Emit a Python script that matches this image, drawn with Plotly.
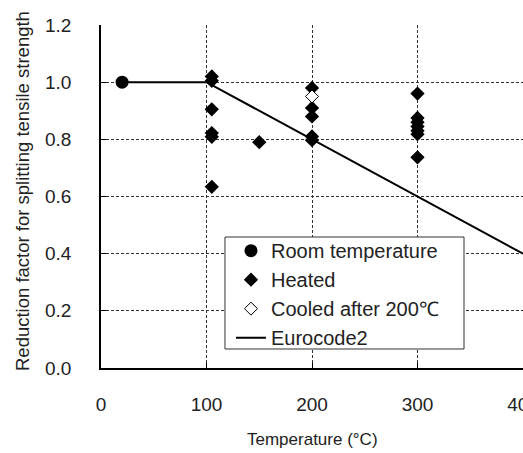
import plotly.graph_objects as go

# Temperature (°C) and reduction factor for each specimen group
room_temp = [20]
room_factor = [1.0]

heated_temp = [105, 105, 105, 105, 105, 105,
               150,
               200, 200, 200, 200, 200,
               300, 300, 300, 300, 300, 300, 300]
heated_factor = [1.02, 1.005, 0.905, 0.822, 0.809, 0.634,
                 0.79,
                 0.98, 0.91, 0.88, 0.81, 0.797,
                 0.96, 0.875, 0.86, 0.845, 0.83, 0.818, 0.737]

cooled_temp = [200]
cooled_factor = [0.95]

# Eurocode 2 reduction curve for tensile strength
ec2_temp = [20, 100, 400]
ec2_factor = [1.0, 1.0, 0.4]

x_ticks = [0, 100, 200, 300, 400]
y_ticks = [0.0, 0.2, 0.4, 0.6, 0.8, 1.0, 1.2]

FONT = "Arial, Liberation Sans, sans-serif"
TEXT = "#222222"

fig = go.Figure()

fig.add_trace(go.Scatter(
    x=ec2_temp, y=ec2_factor, mode="lines", name="Eurocode2",
    line=dict(color="black", width=2), legendrank=4,
))
fig.add_trace(go.Scatter(
    x=room_temp, y=room_factor, mode="markers", name="Room temperature",
    marker=dict(symbol="circle", size=13, color="black"), legendrank=1,
))
fig.add_trace(go.Scatter(
    x=heated_temp, y=heated_factor, mode="markers", name="Heated",
    marker=dict(symbol="diamond", size=11, color="black"), legendrank=2,
))
fig.add_trace(go.Scatter(
    x=cooled_temp, y=cooled_factor, mode="markers", name="Cooled after 200\u2103",
    marker=dict(symbol="diamond", size=10, color="white",
                line=dict(color="black", width=1)), legendrank=3,
))

axis_common = dict(
    showline=True, linecolor="black", linewidth=1.5,
    showgrid=True, gridcolor="#333333", griddash="3px,2px", gridwidth=1,
    zeroline=False, ticks="inside", ticklen=5, tickcolor="black",
    tickfont=dict(family=FONT, size=19, color=TEXT),
    automargin=False,
)

fig.update_xaxes(range=[0, 400], tickvals=x_ticks, ticklabelstandoff=18,
                 ticklabeloverflow="allow", **axis_common)
fig.update_yaxes(range=[0, 1.2], tickvals=y_ticks, tickformat=".1f",
                 ticklabelstandoff=24, **axis_common)

fig.update_layout(
    width=523, height=453,
    margin=dict(l=101, r=0, t=25, b=85),
    paper_bgcolor="white", plot_bgcolor="white",
    showlegend=True,
    legend=dict(
        x=0.308, y=0.399, xanchor="left", yanchor="top",
        bgcolor="rgba(0,0,0,0)", borderwidth=0,
        font=dict(family=FONT, size=20, color=TEXT),
        traceorder="normal",
    ),
    shapes=[
        # framed white panel behind the legend entries
        dict(type="rect", xref="paper", yref="paper",
             x0=0.2938, x1=0.8602, y0=0.0554, y1=0.3819,
             fillcolor="white", line=dict(color="#333333", width=1),
             layer="above"),
    ],
    annotations=[
        dict(text="Temperature (\u00b0C)", xref="paper", yref="paper",
             x=0.5, y=0, yshift=-83, showarrow=False,
             font=dict(family=FONT, size=17, color=TEXT)),
        dict(text="Reduction factor for splitting tensile strength",
             xref="paper", yref="paper", x=0, xshift=-79, y=0.516,
             xanchor="center", yanchor="middle",
             textangle=-90, showarrow=False,
             font=dict(family=FONT, size=18.5, color=TEXT)),
    ],
)

fig.write_html("out.html")
